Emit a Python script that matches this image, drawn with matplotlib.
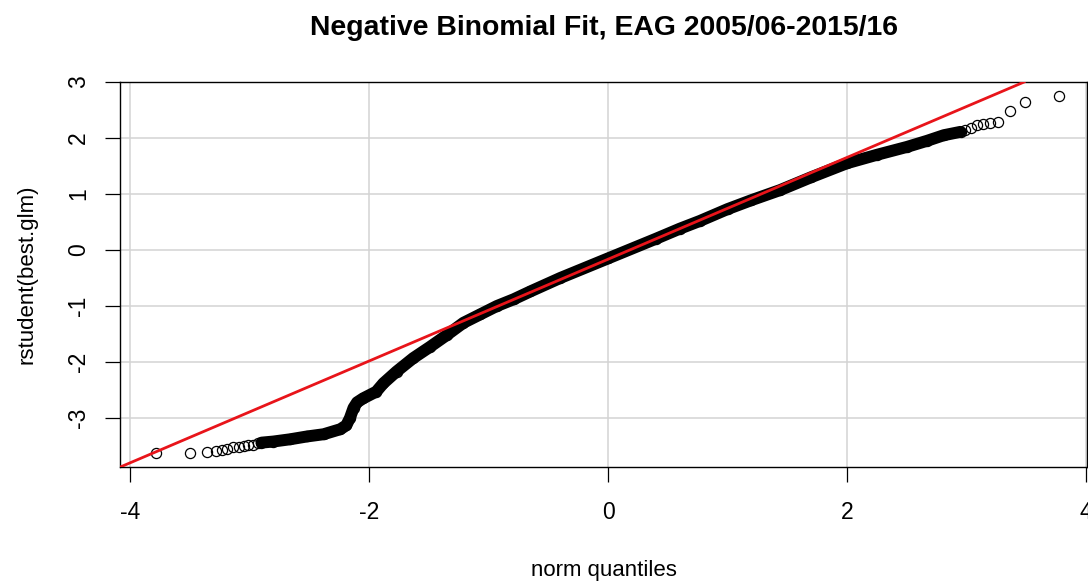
import matplotlib
matplotlib.use("Agg")
import matplotlib.pyplot as plt

plt.rcParams['font.family'] = ['Liberation Sans', 'DejaVu Sans']
plt.rcParams['axes.unicode_minus'] = False

# ---- data (normal quantile, studentized residual) ----
lo_tail_x = [-3.78, -3.50, -3.36, -3.28, -3.23, -3.19, -3.14, -3.09, -3.05, -3.01, -2.97, -2.93]
lo_tail_y = [-3.63, -3.63, -3.60, -3.595, -3.58, -3.56, -3.52, -3.51, -3.50, -3.49, -3.48, -3.45]

band_x = [-2.90, -2.80, -2.66, -2.52, -2.38, -2.24, -2.19, -2.16, -2.13, -2.10, -2.05, -1.94,
          -1.88, -1.77, -1.63, -1.49, -1.35, -1.21, -1.07, -0.93, -0.79, -0.65, -0.40, 0.00,
          0.40, 0.60, 0.77, 1.00, 1.20, 1.44, 1.70, 2.00, 2.25, 2.50, 2.67, 2.81, 2.95]
band_y = [-3.44, -3.42, -3.38, -3.33, -3.29, -3.20, -3.13, -3.00, -2.82, -2.72, -2.65, -2.53,
          -2.38, -2.17, -1.93, -1.73, -1.52, -1.30, -1.15, -1.00, -0.88, -0.74, -0.50, -0.15,
          0.20, 0.38, 0.52, 0.73, 0.89, 1.07, 1.30, 1.55, 1.70, 1.84, 1.95, 2.05, 2.11]

hi_tail_x = [2.99, 3.04, 3.09, 3.14, 3.20, 3.26, 3.36, 3.49, 3.77]
hi_tail_y = [2.14, 2.17, 2.23, 2.25, 2.26, 2.29, 2.48, 2.635, 2.75]

line_intercept = -0.165
line_slope = 0.909

x_ticks = [-4, -2, 0, 2, 4]
y_ticks = [-3, -2, -1, 0, 1, 2, 3]

title = "Negative Binomial Fit, EAG 2005/06-2015/16"
xlabel = "norm quantiles"
ylabel = "rstudent(best.glm)"

# ---- figure ----
W, H = 1088, 584
fig = plt.figure(figsize=(W / 100, H / 100), dpi=100)
L, R, T, B = 120, 1087, 82, 467
ax = fig.add_axes([L / W, 1 - B / H, (R - L) / W, (B - T) / H])
ax.set_xlim(-4.084, 4.008)
ax.set_ylim(-3.875, 3.0)

ax.set_xticks(x_ticks)
ax.set_yticks(y_ticks)
ax.grid(True, color='#d3d3d3', linewidth=1.1)
ax.set_axisbelow(True)

mk = dict(marker='o', linestyle='none', markerfacecolor='none',
          markeredgecolor='black', markersize=7.3, markeredgewidth=0.9)
ax.plot(band_x, band_y, color='black', linewidth=8.6, solid_capstyle='round',
        solid_joinstyle='round', zorder=3)
ax.plot(band_x, band_y, zorder=3, **mk)
ax.plot(lo_tail_x, lo_tail_y, zorder=3, **mk)
ax.plot(hi_tail_x, hi_tail_y, zorder=3, **mk)

ax.axline((0, line_intercept), slope=line_slope, color='#e8141a', linewidth=2.0, zorder=4)

for s in ax.spines.values():
    s.set_color('black')
    s.set_linewidth(1.0)

ax.tick_params(axis='both', which='both', direction='out', length=10.5, width=0.9,
               labelsize=16.5, color='black')
ax.tick_params(axis='x', pad=14)
ax.tick_params(axis='y', pad=11)
for lab in ax.get_yticklabels():
    lab.set_rotation(90)
    lab.set_verticalalignment('center')

ax.set_xlabel(xlabel, fontsize=16, labelpad=26)
ax.set_ylabel(ylabel, fontsize=16, labelpad=21)
fig.text(0.5 * (L + R) / W, 1 - 28 / H, title, ha='center', va='center',
         fontsize=20.4, fontweight='bold')

fig.savefig("out.png", dpi=100)
